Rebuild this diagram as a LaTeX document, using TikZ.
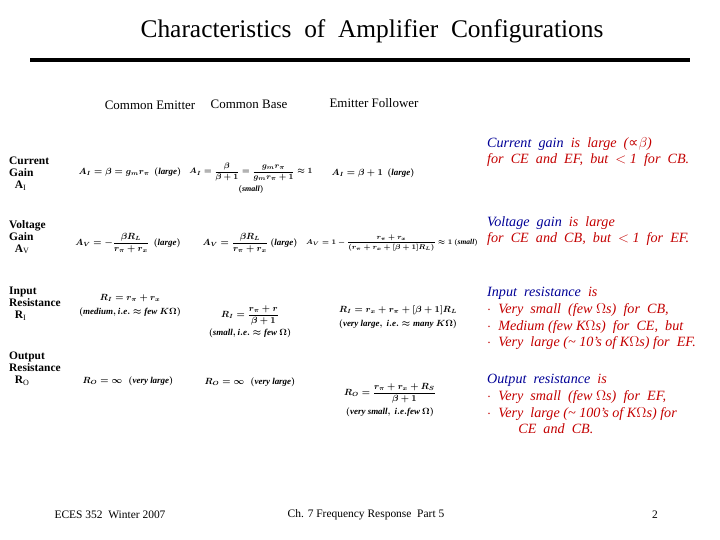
\documentclass[tikz,border=0pt]{standalone}
\usepackage{fontspec}
\setmainfont{Liberation Serif}
\newfontfamily\symfont{DejaVu Sans}
\usepackage{amsmath}
\definecolor{noteblue}{RGB}{0,0,150}
\definecolor{notered}{RGB}{195,0,0}
\begin{document}
\begin{tikzpicture}[
    x=1bp, y=-1bp,
    head/.style={font=\fontsize{13}{14}\selectfont, inner sep=0pt},
    rowlab/.style={anchor=north west, align=left, font=\fontsize{11.5}{12}\selectfont\bfseries, inner sep=0pt},
    cell/.style={align=center, font=\fontsize{9}{11}\selectfont\boldmath, inner sep=0pt},
    note/.style={anchor=north west, align=left, text=notered, font=\fontsize{14.2}{16.8}\selectfont\itshape, inner sep=0pt},
    foot/.style={font=\fontsize{11.5}{12}\selectfont, inner sep=0pt}
]
    \useasboundingbox (0,0) rectangle (720,540);

    % Title
    \node[font=\fontsize{25.5}{27}\selectfont] (title) at (372,31) {Characteristics\ \ of\ \ Amplifier\ \ Configurations};
    \draw[line width=4bp] (30,60) -- (690,60);

    % Column heads
    \node[head] (hce) at (150,105) {Common Emitter};
    \node[head] (hcb) at (249,104) {Common Base};
    \node[head] (hef) at (374,103) {Emitter Follower};

    % Row labels
    \node[rowlab] (lai) at (9,157) {Current\\Gain\\\ \ A$_\mathrm{I}$};
    \node[rowlab] (lav) at (9,220) {Voltage\\Gain\\\ \ A$_\mathrm{V}$};
    \node[rowlab] (lri) at (9,287) {Input\\Resistance\\\ \ R$_\mathrm{I}$};
    \node[rowlab] (lro) at (9,352) {Output\\Resistance\\\ \ R$_\mathrm{O}$};

    % Current gain
    \node[cell] (aice) at (130,172) {$A_I=\beta=g_m r_\pi\ \ (\mathit{large})$};
    \node[cell, font=\fontsize{8}{10}\selectfont\boldmath] (aicb) at (251,178) {$A_I=\dfrac{\beta}{\beta+1}=\dfrac{g_m r_\pi}{g_m r_\pi+1}\approx 1$\\[3pt]$(\mathit{small})$};
    \node[cell] (aief) at (373,173) {$A_I=\beta+1\ \ (\mathit{large})$};

    % Voltage gain
    \node[cell] (avce) at (128,243) {$A_V=-\dfrac{\beta R_L}{r_\pi+r_x}\ \ (\mathit{large})$};
    \node[cell] (avcb) at (250,243) {$A_V=\dfrac{\beta R_L}{r_\pi+r_x}\ (\mathit{large})$};
    \node[cell, font=\fontsize{7.5}{9}\selectfont\boldmath] (avef) at (392,243) {$A_V=1-\dfrac{r_\pi+r_x}{\left(r_\pi+r_x+[\beta+1]R_L\right)}\approx 1\ (\mathit{small})$};

    % Input resistance
    \node[cell] (rice) at (130,306) {$R_I=r_\pi+r_x$\\[3pt]$\left(\mathit{medium,i.e.}\approx \mathit{few}\ K\Omega\right)$};
    \node[cell] (ricb) at (250,322) {$R_I=\dfrac{r_\pi+r}{\beta+1}$\\[3pt]$\left(\mathit{small,i.e.}\approx \mathit{few}\ \Omega\right)$};
    \node[cell] (rief) at (398,317) {$R_I=r_x+r_\pi+[\beta+1]R_L$\\[3pt]$\left(\mathit{very\ large,\ i.e.}\approx \mathit{many}\ K\Omega\right)$};

    % Output resistance
    \node[cell] (roce) at (128,381) {$R_O=\infty\ \ \left(\mathit{very\ large}\right)$};
    \node[cell] (rocb) at (250,382) {$R_O=\infty\ \ \left(\mathit{very\ large}\right)$};
    \node[cell] (roef) at (390,400) {$R_O=\dfrac{r_\pi+r_x+R_S}{\beta+1}$\\[3pt]$\left(\mathit{very\ small,\ i.e.few}\ \Omega\right)$};

    % Notes
    \node[note] (ncur) at (487,137) {\textcolor{noteblue}{Current\ \ gain}\ \ is\ \ large\ \ ({\symfont\char"221D}$\beta$)\\for\ \ CE\ \ and\ \ EF,\ \ but\ \ $<$ 1\ \ for\ \ CB.};
    \node[note] (nvol) at (487,216) {\textcolor{noteblue}{Voltage\ \ gain}\ \ is\ \ large\\for\ \ CE\ \ and\ \ CB,\ \ but\ \ $<$ 1\ \ for\ \ EF.};
    \node[note] (ninp) at (487,287) {\textcolor{noteblue}{Input\ \ resistance}\ \ is\\$\cdot$\ \ Very\ \ small\ \ (few\ $\Omega$s)\ \ for\ \ CB,\\$\cdot$\ \ Medium (few K$\Omega$s)\ \ for\ \ CE,\ \ but\\$\cdot$\ \ Very\ \ large (\textasciitilde\ 10's of K$\Omega$s) for\ \ EF.};
    \node[note] (nout) at (487,374) {\textcolor{noteblue}{Output\ \ resistance}\ \ is\\$\cdot$\ \ Very\ \ small\ \ (few\ $\Omega$s)\ \ for\ \ EF,\\$\cdot$\ \ Very\ \ large (\textasciitilde\ 100's of K$\Omega$s) for\\\hspace*{2.2em}CE\ \ and\ \ CB.};

    % Footer
    \node[foot] (fcourse) at (110,515) {ECES 352\ \ Winter 2007};
    \node[foot] (fchap) at (366,515) {Ch. 7 Frequency Response\ \ Part 5};
    \node[foot] (fpage) at (655,515) {2};
\end{tikzpicture}
\end{document}
